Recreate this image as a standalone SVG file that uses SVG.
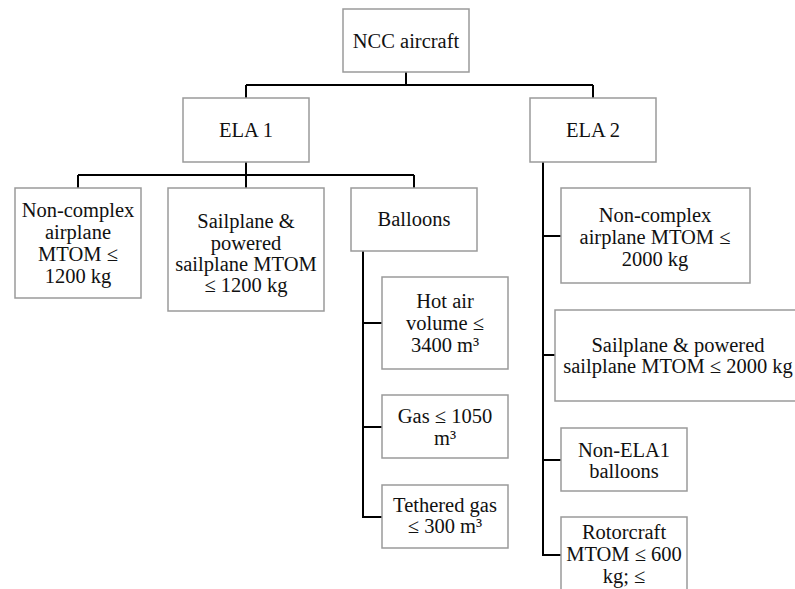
<svg xmlns="http://www.w3.org/2000/svg" width="795" height="589" viewBox="0 0 795 589">
<style>
.box{fill:#fff;stroke:#9a9a9a;stroke-width:1.5}
.t{font-family:'Liberation Serif','Times New Roman',Times,'DejaVu Serif',serif;font-size:20.5px;fill:#111;text-anchor:middle}
.c{fill:none;stroke:#000;stroke-width:2}
</style>
<rect width="795" height="589" fill="#fff"/>
<g id="connectors">
<path class="c" d="M406,72V85M246,85H593M246,85V98M593,85V98"/>
<path class="c" d="M246,162V175M78,175H414M78,175V188M246,175V188M414,175V188"/>
<path class="c" d="M363,251V517H382M363,323H382M363,427H382"/>
<path class="c" d="M543,162V555H561M543,236H561M543,355H555M543,460H561"/>
</g>
<g id="ncc"><rect class="box" x="343" y="9" width="126" height="63"/><text class="t" font-family="Liberation Serif, serif" x="406" y="48">NCC aircraft</text></g>
<g id="ela1"><rect class="box" x="183" y="98" width="126" height="64"/><text class="t" x="246" y="137">ELA 1</text></g>
<g id="ela2"><rect class="box" x="530" y="98" width="126" height="64"/><text class="t" x="593" y="137">ELA 2</text></g>
<g id="nc1200"><rect class="box" x="15" y="188" width="126" height="110"/><text class="t" x="78"><tspan x="78" y="217">Non-complex</tspan><tspan x="78" y="239">airplane</tspan><tspan x="78" y="261">MTOM ≤</tspan><tspan x="78" y="283">1200 kg</tspan></text></g>
<g id="sp1200"><rect class="box" x="168" y="188" width="156" height="123"/><text class="t" x="246"><tspan x="246" y="228">Sailplane &amp;</tspan><tspan x="246" y="250">powered</tspan><tspan x="246" y="271">sailplane MTOM</tspan><tspan x="246" y="292">≤ 1200 kg</tspan></text></g>
<g id="balloons"><rect class="box" x="351" y="188" width="126" height="63"/><text class="t" x="414" y="226">Balloons</text></g>
<g id="hotair"><rect class="box" x="382" y="277" width="126" height="92"/><text class="t" x="445"><tspan x="445" y="308">Hot air</tspan><tspan x="445" y="330">volume ≤</tspan><tspan x="445" y="352">3400 m³</tspan></text></g>
<g id="gas"><rect class="box" x="382" y="395" width="126" height="63"/><text class="t" x="445"><tspan x="445" y="423">Gas ≤ 1050</tspan><tspan x="445" y="445">m³</tspan></text></g>
<g id="tethered"><rect class="box" x="382" y="485" width="126" height="63"/><text class="t" x="445"><tspan x="445" y="512">Tethered gas</tspan><tspan x="445" y="533">≤ 300 m³</tspan></text></g>
<g id="nc2000"><rect class="box" x="561" y="188" width="189" height="95"/><text class="t" x="655"><tspan x="655" y="222">Non-complex</tspan><tspan x="655" y="244">airplane MTOM ≤</tspan><tspan x="655" y="266">2000 kg</tspan></text></g>
<g id="sp2000"><rect class="box" x="555" y="310" width="250" height="91"/><text class="t" x="678"><tspan x="678" y="352">Sailplane &amp; powered</tspan><tspan x="678" y="373">sailplane MTOM ≤ 2000 kg</tspan></text></g>
<g id="nonela1"><rect class="box" x="561" y="428" width="126" height="63"/><text class="t" x="624"><tspan x="624" y="457">Non-ELA1</tspan><tspan x="624" y="478">balloons</tspan></text></g>
<g id="rotor"><rect class="box" x="561" y="517" width="126" height="100"/><text class="t" x="624"><tspan x="624" y="539">Rotorcraft</tspan><tspan x="624" y="561">MTOM ≤ 600</tspan><tspan x="624" y="583">kg; ≤</tspan></text></g>
</svg>
